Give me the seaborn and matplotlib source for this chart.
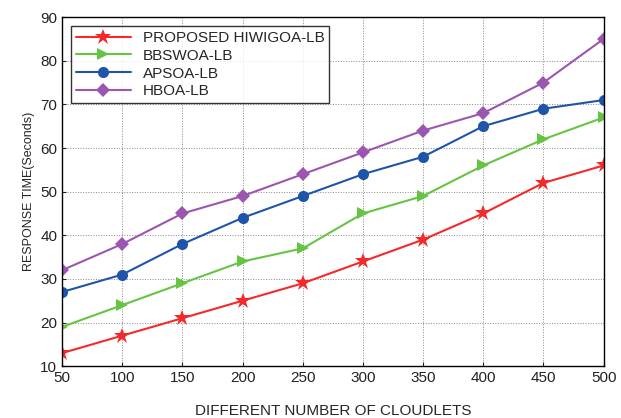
import pandas as pd
import matplotlib
matplotlib.use('Agg')
import matplotlib.pyplot as plt
import seaborn as sns

sns.set_style('ticks')
plt.rcParams['font.family'] = ['Liberation Sans', 'DejaVu Sans']

cloudlets = [50, 100, 150, 200, 250, 300, 350, 400, 450, 500]
proposed = [13, 17, 21, 25, 29, 34, 39, 45, 52, 56]
bbswoa = [19, 24, 29, 34, 37, 45, 49, 56, 62, 67]
apsoa = [27, 31, 38, 44, 49, 54, 58, 65, 69, 71]
hboa = [32, 38, 45, 49, 54, 59, 64, 68, 75, 85]
names = ['PROPOSED HIWIGOA-LB', 'BBSWOA-LB', 'APSOA-LB', 'HBOA-LB']

rows = []
for name, vals in zip(names, [proposed, bbswoa, apsoa, hboa]):
    for x, y in zip(cloudlets, vals):
        rows.append({'x': x, 'y': y, 'method': name})
df = pd.DataFrame(rows)

colors = ['#f42a2a', '#66c443', '#1f55a8', '#9c55b0']
markers = ['*', '>', 'o', 'D']
sizes = [12, 8.5, 8, 7]

fig, ax = plt.subplots(figsize=(6.21, 4.18), dpi=100)
fig.subplots_adjust(left=0.1, right=0.972, top=0.959, bottom=0.124)

sns.lineplot(data=df, x='x', y='y', hue='method', style='method',
             palette=colors, markers=markers, dashes=False, ax=ax,
             linewidth=1.5, markeredgewidth=0)
for line, ms in zip(ax.lines, sizes):
    line.set_markersize(ms)

ax.set_xlim(50, 500)
ax.set_ylim(10, 90)
ax.set_xticks(cloudlets)
ax.set_yticks(range(10, 91, 10))
ax.grid(True, linestyle=':', color='#888888', linewidth=0.7)
ax.tick_params(direction='in', labelsize=11, length=3, colors='#222222')
for s in ax.spines.values():
    s.set_color('black')
    s.set_linewidth(1.0)

ax.set_xlabel('DIFFERENT NUMBER OF CLOUDLETS', fontsize=11, labelpad=14)
ax.set_ylabel('RESPONSE TIME(Seconds)', fontsize=9)

leg = ax.legend(loc='upper left', fontsize=11, frameon=True, fancybox=False,
                borderaxespad=0.6, handlelength=3.6, labelspacing=0.25,
                borderpad=0.3)
leg.get_frame().set_edgecolor('black')
leg.get_frame().set_linewidth(1.0)
for h, ms in zip(leg.legend_handles, sizes):
    h.set_markersize(ms)

fig.savefig('out.png', dpi=100)
